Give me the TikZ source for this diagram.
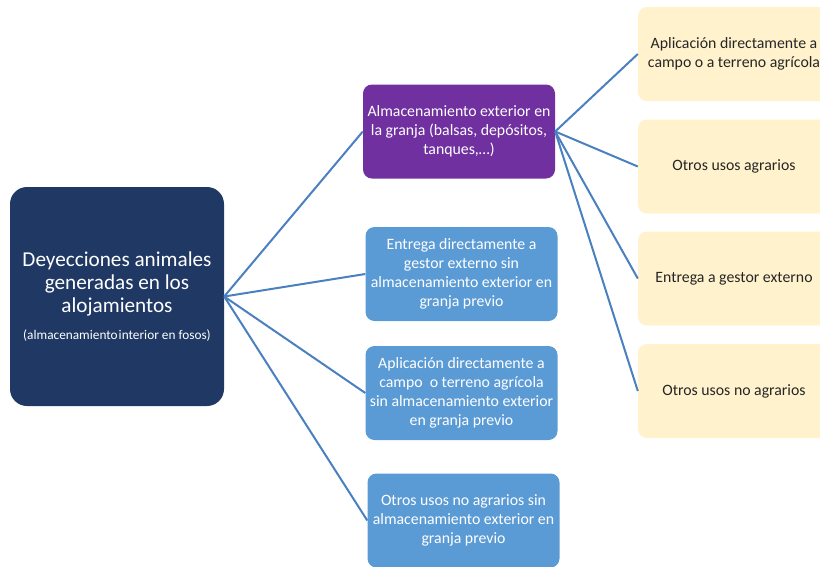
\documentclass[tikz,border=0pt]{standalone}
\usepackage{fontspec}
\setmainfont{Carlito}
\usetikzlibrary{positioning}

\definecolor{rootnavy}{HTML}{203864}
\definecolor{storepurple}{HTML}{7030A0}
\definecolor{routeblue}{HTML}{5B9BD5}
\definecolor{useyellow}{HTML}{FFF2CC}
\definecolor{linkblue}{HTML}{4A80C0}

\begin{document}
\begin{tikzpicture}[
        x=1pt, y=-1pt,
        font=\fontsize{15.8}{18.8}\selectfont,
        box/.style={
            rounded corners=9pt,
            align=center,
            inner sep=3pt,
            minimum width=192pt,
            minimum height=94pt,
            text=white
        },
        store/.style={box, fill=storepurple},
        route/.style={box, fill=routeblue},
        use/.style={box, fill=useyellow, text=black!85},
        link/.style={draw=linkblue, line width=2pt}
    ]
    \useasboundingbox (0,0) rectangle (820,566);
    \clip (0,0) rectangle (820,566);

    \node[box, fill=rootnavy, rounded corners=17pt,
          minimum width=214pt, minimum height=219pt,
          font=\fontsize{21.2}{23.2}\selectfont] (R) at (117,296.5)
        {Deyecciones animales\\ generadas en los\\ alojamientos\\[4pt]
         {\fontsize{13.3}{14}\selectfont (almacenamiento\hspace{1pt}interior en fosos)}};

    \node[store] (A) at (459,131.5) {Almacenamiento exterior en\\ la granja (balsas, dep\'ositos,\\ tanques,\dots)};
    \node[route] (G) at (461.5,274) {Entrega directamente a\\ gestor externo sin\\ almacenamiento exterior en\\ granja previo};
    \node[route] (C) at (461.5,393) {Aplicaci\'on directamente a\\ campo\ \ o terreno agr\'icola\\ sin almacenamiento exterior\\ en granja previo};
    \node[route] (O) at (463.5,520.5) {Otros usos no agrarios sin\\ almacenamiento exterior en\\ granja previo};

    \node[use] (U1) at (734,54) {Aplicaci\'on directamente a\\ campo o a terreno agr\'icola};
    \node[use] (U2) at (734,166.5) {Otros usos agrarios};
    \node[use] (U3) at (734,278.5) {Entrega a gestor externo};
    \node[use] (U4) at (734,391) {Otros usos no agrarios};

    \foreach \t in {A,G,C,O}
        \draw[link] (R.east) -- (\t.west);
    \foreach \t in {U1,U2,U3,U4}
        \draw[link] (A.east) -- (\t.west);
\end{tikzpicture}
\end{document}
